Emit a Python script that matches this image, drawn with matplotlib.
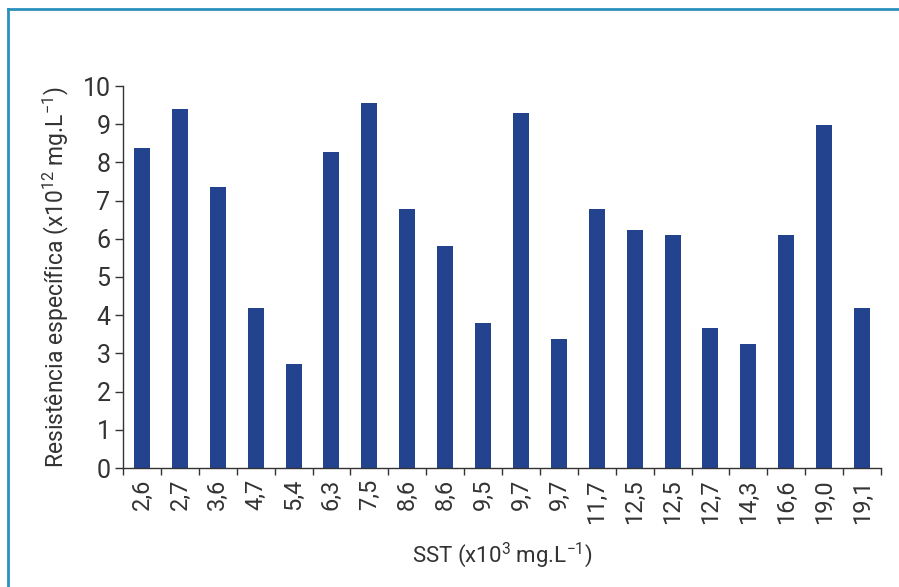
import matplotlib
matplotlib.use("Agg")
import matplotlib.pyplot as plt
from matplotlib.lines import Line2D
import numpy as np

categories = ["2,6", "2,7", "3,6", "4,7", "5,4", "6,3", "7,5", "8,6", "8,6", "9,5",
              "9,7", "9,7", "11,7", "12,5", "12,5", "12,7", "14,3", "16,6", "19,0", "19,1"]
values = [8.38, 9.40, 7.36, 4.19, 2.72, 8.27, 9.55, 6.78, 5.81, 3.80,
          9.29, 3.38, 6.78, 6.23, 6.10, 3.66, 3.25, 6.10, 8.98, 4.19]
yticks = list(range(0, 11))

plt.rcParams['font.family'] = ['Roboto', 'DejaVu Sans']
plt.rcParams['mathtext.fontset'] = 'custom'
plt.rcParams['mathtext.rm'] = 'Roboto'
plt.rcParams['mathtext.it'] = 'Roboto'

txt = '#333333'
fig = plt.figure(figsize=(8.99, 5.87), dpi=100)
ax = fig.add_axes([123/899, 1-468/587, (881-123)/899, (468-86)/587])

x = np.arange(len(categories))
ax.bar(x, values, width=0.42, color='#23438f')
ax.set_xlim(-0.5, len(categories)-0.5)
ax.set_ylim(0, 10)
ax.set_yticks(yticks)
ax.set_yticklabels([str(t) for t in yticks], fontsize=18, color=txt)
ax.set_xticks(x)
ax.set_xticklabels(categories, rotation=90, fontsize=17, color=txt)
ax.set_xticks(np.arange(-0.5, len(categories)), minor=True)
ax.tick_params(axis='x', which='major', length=0, pad=8)
ax.tick_params(axis='x', which='minor', length=5, width=1, color='#333333', direction='out')
ax.tick_params(axis='y', length=6, width=1, color='#333333', pad=3)
for s in ['top', 'right']:
    ax.spines[s].set_visible(False)
for s in ['left', 'bottom']:
    ax.spines[s].set_color('#333333')
    ax.spines[s].set_linewidth(1)

ax.set_ylabel('Resistência específica (x10$^{12}$ mg.L$^{-1}$)', fontsize=16.5, color=txt, labelpad=8)
ax.set_xlabel('SST (x10$^{3}$ mg.L$^{-1}$)', fontsize=16, color=txt, labelpad=12)

bc = '#2a90bd'
fig.add_artist(Line2D([8/899, 1.01], [1-9/587, 1-9/587], color=bc, lw=2, transform=fig.transFigure))
fig.add_artist(Line2D([8/899, 8/899], [1-9/587, -0.01], color=bc, lw=2, transform=fig.transFigure))

fig.savefig('out.png', dpi=100)
